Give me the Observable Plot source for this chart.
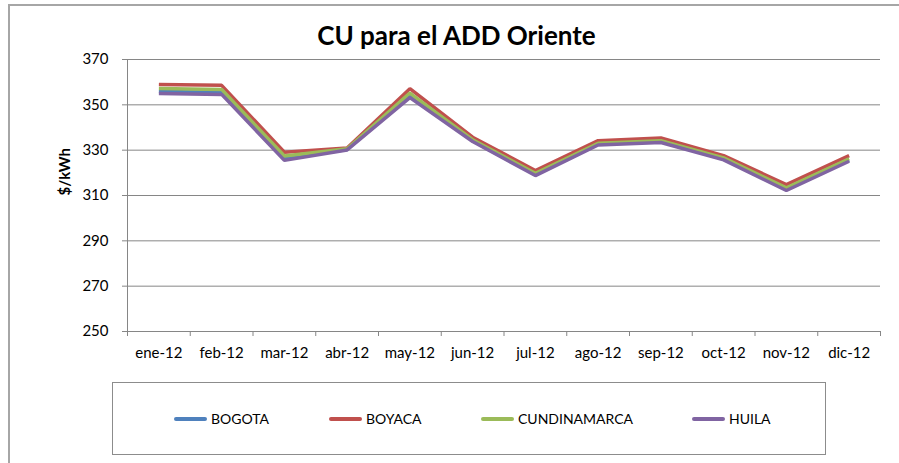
<!DOCTYPE html>
<html><head><meta charset="utf-8">
<script src="https://cdn.jsdelivr.net/npm/d3@7"></script>
<script src="https://cdn.jsdelivr.net/npm/@observablehq/plot@0.6"></script>
<style>
body{margin:0;background:#fff;font-family:Lato,sans-serif}
#wrap{position:relative;width:899px;height:463px;overflow:hidden;background:#fff}
#frame{position:absolute;left:8px;top:4px;width:1000px;height:600px;border-left:2px solid #a6a6a6;border-top:2px solid #a6a6a6;box-sizing:border-box}
#title{position:absolute;left:0;top:18px;width:913px;text-align:center;font:bold 26px Lato,sans-serif;color:#000;line-height:34px}
#plot{position:absolute;left:0;top:0}
#legend{position:absolute;left:112px;top:382px;width:714px;height:73px;border:1.5px solid #8c8c8c;box-sizing:border-box}
.item{position:absolute;top:0;height:100%;display:flex;align-items:center;font:14px Lato,sans-serif;color:#000}
.sw{display:inline-block;width:33px;height:4px;border-radius:2px;margin-right:4px}
</style></head>
<body>
<div id="wrap">
  <div id="frame"></div>
  <div id="plot"></div>
  <div id="title">CU para el ADD Oriente</div>
  <div id="legend"></div>
</div>
<script>
const title = "CU para el ADD Oriente";
const yLabel = "$/kWh";
const months = ["ene-12","feb-12","mar-12","abr-12","may-12","jun-12","jul-12","ago-12","sep-12","oct-12","nov-12","dic-12"];
const seriesNames = ["BOGOTA","BOYACA","CUNDINAMARCA","HUILA"];
const seriesColors = ["#4F81BD","#C0504D","#9BBB59","#8064A2"];
const bogota       = [355.9,355.5,326.3,330.3,354.0,334.2,319.2,332.6,333.8,326.1,312.7,325.6];
const boyaca       = [359.0,358.6,329.1,331.0,357.1,335.7,321.0,334.2,335.4,327.6,314.8,327.6];
const cundinamarca = [357.2,356.8,327.4,330.6,355.2,334.6,319.8,333.0,334.2,326.6,313.4,326.2];
const huila        = [355.0,354.6,325.5,330.1,353.2,333.8,318.8,332.3,333.4,325.7,312.2,325.1];
const yTicks = [250,270,290,310,330,350,370];

const allSeries = [bogota, boyaca, cundinamarca, huila];
const data = [];
allSeries.forEach((vals, s) => vals.forEach((v, i) => data.push({series: seriesNames[s], i, v})));

const gray = "#868686";
const boundaries = d3.range(months.length + 1).map(k => k - 0.5);

const chart = Plot.plot({
  width: 899,
  height: 380,
  marginLeft: 127,
  marginRight: 19,
  marginTop: 59,
  marginBottom: 49,
  style: {fontFamily: "Lato, sans-serif", fontSize: "15px", color: "#000", background: "transparent"},
  x: {type: "linear", domain: [-0.5, months.length - 0.5]},
  y: {domain: [250, 370]},
  color: {domain: seriesNames, range: seriesColors},
  marks: [
    Plot.gridY(yTicks, {stroke: gray, strokeOpacity: 1, strokeWidth: 1}),
    Plot.ruleX([-0.5], {stroke: gray, strokeWidth: 1}),
    Plot.ruleY([250], {stroke: gray, strokeWidth: 1}),
    Plot.axisY(yTicks, {tickSize: 5, tickPadding: 14, stroke: gray, fill: "#000", label: null, fontSize: 15}),
    Plot.axisX(boundaries, {tickSize: 5, tickFormat: () => "", stroke: gray, label: null}),
    Plot.axisX(d3.range(months.length), {tickSize: 0, tickPadding: 16, tickFormat: i => months[i], fill: "#000", label: null, fontSize: 15}),
    Plot.line(data, {x: "i", y: "v", stroke: "series", z: "series", strokeWidth: 3.5, strokeLinejoin: "miter", strokeLinecap: "butt"}),
    Plot.text([yLabel], {frameAnchor: "left", rotate: -90, dx: -62, fontWeight: "bold", fontSize: 15, fill: "#000"})
  ]
});
document.getElementById("plot").appendChild(chart);
document.getElementById("title").textContent = title;

const legend = document.getElementById("legend");
const itemX = [61, 216, 368, 579];
seriesNames.forEach((name, k) => {
  const it = document.createElement("div");
  it.className = "item";
  it.style.left = itemX[k] + "px";
  const sw = document.createElement("span");
  sw.className = "sw";
  sw.style.background = seriesColors[k];
  it.appendChild(sw);
  it.appendChild(document.createTextNode(name));
  legend.appendChild(it);
});
</script>
</body></html>
